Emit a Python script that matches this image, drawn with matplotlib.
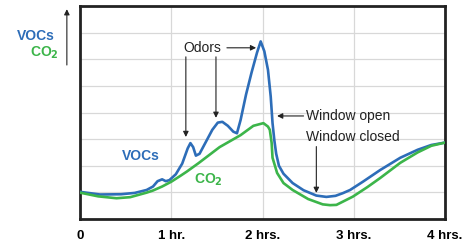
"""
VOCs vs CO2 concentration over four hours, with window open/close events.
"""
import matplotlib
matplotlib.use("Agg")
import matplotlib.pyplot as plt

plt.rcParams["font.family"] = ["Liberation Sans", "DejaVu Sans"]

BLUE = "#2d6db8"
GREEN = "#3cb54a"

# Time in hours, concentration in relative units (8 grid divisions)
voc_t = [0, 0.22, 0.45, 0.6, 0.73, 0.80, 0.85, 0.90, 0.94, 0.98, 1.05, 1.12,
         1.18, 1.21, 1.24, 1.27, 1.31, 1.38, 1.45, 1.51, 1.56, 1.62, 1.68,
         1.72, 1.76, 1.82, 1.88, 1.94, 1.98, 2.02, 2.06, 2.09, 2.11, 2.13,
         2.15, 2.18, 2.23, 2.33, 2.45, 2.59, 2.70, 2.80, 2.88, 2.96, 3.1,
         3.29, 3.51, 3.70, 3.85, 4.0]
voc_v = [1.02, 0.92, 0.93, 0.98, 1.09, 1.22, 1.42, 1.49, 1.42, 1.46, 1.68,
         2.08, 2.65, 2.85, 2.70, 2.38, 2.45, 2.90, 3.35, 3.62, 3.65, 3.50,
         3.28, 3.22, 3.72, 4.68, 5.50, 6.25, 6.67, 6.30, 5.60, 4.60, 3.60,
         2.95, 2.45, 2.00, 1.70, 1.35, 1.08, 0.88, 0.83, 0.87, 0.97, 1.09,
         1.40, 1.84, 2.30, 2.60, 2.78, 2.87]

co2_t = [0, 0.2, 0.40, 0.55, 0.73, 0.80, 0.9, 1.0, 1.1, 1.17, 1.3, 1.53,
         1.76, 1.90, 2.01, 2.06, 2.08, 2.10, 2.11, 2.16, 2.23, 2.33, 2.5,
         2.66, 2.74, 2.81, 2.99, 3.15, 3.29, 3.51, 3.7, 3.85, 4.0]
co2_v = [0.99, 0.85, 0.78, 0.82, 0.99, 1.07, 1.22, 1.40, 1.62, 1.78, 2.10,
         2.70, 3.15, 3.50, 3.60, 3.47, 3.35, 2.86, 2.30, 1.73, 1.35, 1.09,
         0.75, 0.55, 0.52, 0.53, 0.84, 1.20, 1.54, 2.11, 2.50, 2.75, 2.87]

hour_ticks = [0, 1, 2, 3, 4]
hour_labels = ["0", "1 hr.", "2 hrs.", "3 hrs.", "4 hrs."]

fig = plt.figure(figsize=(4.76, 2.42), dpi=100)
ax = fig.add_axes([80 / 476, 23 / 242, 365 / 476, 213 / 242])

ax.plot(voc_t, voc_v, color=BLUE, lw=1.9, solid_capstyle="round", zorder=3)
ax.plot(co2_t, co2_v, color=GREEN, lw=1.9, solid_capstyle="round", zorder=4)

ax.set_xlim(0, 4)
ax.set_ylim(0, 8)
ax.set_xticks(hour_ticks)
ax.set_xticklabels(hour_labels, fontsize=9.5, fontweight="bold")
ax.set_yticks(range(1, 8))
ax.tick_params(axis="y", left=False, labelleft=False)
ax.tick_params(axis="x", length=0, pad=8)
ax.grid(True, color="#d8d8d8", lw=0.9, zorder=0)
for s in ax.spines.values():
    s.set_linewidth(2.0)
    s.set_color("#222222")

arrow = dict(arrowstyle="-|>", color="#222222", lw=0.8,
             mutation_scale=8, shrinkA=0, shrinkB=0)
txt = dict(fontsize=10, color="#222222")

# Odors annotations
ax.text(1.34, 6.43, "Odors", ha="center", va="center", **txt)
ax.annotate("", xy=(1.93, 6.43), xytext=(1.61, 6.43), arrowprops=arrow)
ax.annotate("", xy=(1.16, 3.08), xytext=(1.16, 6.09), arrowprops=arrow)
ax.annotate("", xy=(1.49, 3.80), xytext=(1.49, 6.09), arrowprops=arrow)

# Window events
ax.text(2.48, 3.87, "Window open", ha="left", va="center", **txt)
ax.annotate("", xy=(2.16, 3.87), xytext=(2.45, 3.87), arrowprops=arrow)
ax.text(2.48, 3.08, "Window closed", ha="left", va="center", **txt)
ax.annotate("", xy=(2.59, 0.98), xytext=(2.59, 2.72), arrowprops=arrow)

# Series labels
ax.text(0.67, 2.37, "VOCs", ha="center", va="center", color=BLUE,
        fontsize=10, fontweight="bold")
ax.text(1.41, 1.47, "CO$_\\mathbf{2}$", ha="center", va="center", color=GREEN,
        fontsize=10, fontweight="bold")

# y-axis label with arrow
ax.text(-0.070, 0.859, "VOCs", transform=ax.transAxes, ha="right",
        va="center", color=BLUE, fontsize=10, fontweight="bold")
ax.text(-0.058, 0.779, "CO$_\\mathbf{2}$", transform=ax.transAxes, ha="right",
        va="center", color=GREEN, fontsize=10, fontweight="bold")
ax.annotate("", xy=(-0.036, 0.985), xytext=(-0.036, 0.723),
            xycoords="axes fraction", textcoords="axes fraction",
            arrowprops=arrow, annotation_clip=False)

fig.savefig("out.png", dpi=100)
